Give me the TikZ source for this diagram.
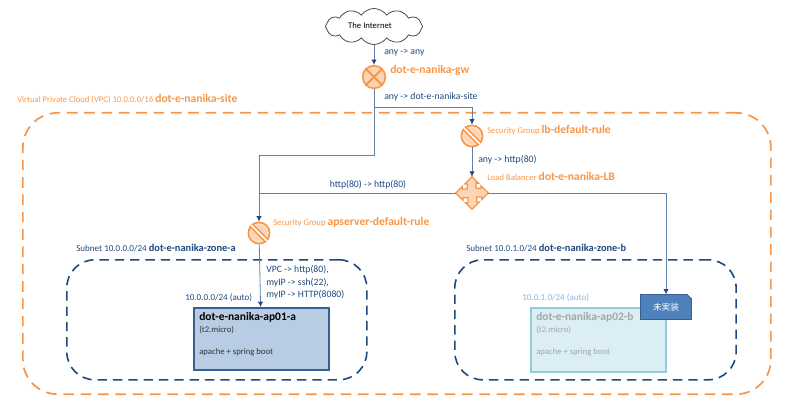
\documentclass[tikz,border=0pt]{standalone}
\usepackage{fontspec}
\setmainfont{Carlito}
\newfontfamily\cjkfont{Noto Sans CJK JP}
\usepackage{xcolor}
\usetikzlibrary{arrows.meta}
\usetikzlibrary{shapes.geometric}
\usetikzlibrary{shapes.symbols}
\definecolor{vpcorange}{HTML}{F79646}
\definecolor{iconfill}{HTML}{FBD5B5}
\definecolor{navy}{HTML}{1F497D}
\definecolor{wire}{HTML}{5F81AA}
\definecolor{apblue}{HTML}{B8CCE4}
\definecolor{apborder}{HTML}{376092}
\definecolor{offfill}{HTML}{DAEEF3}
\definecolor{offborder}{HTML}{92CDDC}
\definecolor{offtext}{HTML}{A6A6A6}
\definecolor{offip}{HTML}{8DB4E2}
\definecolor{tagblue}{HTML}{4F81BD}
\tikzset{
  wire/.style={draw=wire,line width=.6pt},
  flow/.style={wire,-{Latex[length=4pt,width=4pt,color=navy]}},
  region/.style={rounded corners=26pt,dashed,dash pattern=on 8pt off 5pt},
  zonebox/.style={draw=navy,line width=1.2pt,rounded corners=21pt,dash pattern=on 7pt off 4.5pt,minimum height=90pt,anchor=north west},
  secgroup/.style={circle,draw=vpcorange,fill=iconfill,line width=1.2pt,minimum size=16pt,inner sep=0pt},
  rule/.style={text=navy,align=left,font=\fontsize{7.3}{9.5}\selectfont,inner sep=0pt,anchor=west},
  orangelab/.style={text=vpcorange,font=\fontsize{6.5}{8}\selectfont,inner sep=0pt,anchor=west},
  bignavy/.style={text=navy,font=\fontsize{6.8}{8}\selectfont,inner sep=0pt,anchor=west},
  apbox/.style={draw=apborder,fill=apblue,line width=1.4pt,anchor=north west,minimum width=101pt,minimum height=46.5pt},
  boxtitle/.style={anchor=west,inner sep=0pt,font=\fontsize{8.6}{8}\selectfont\bfseries},
  boxtext/.style={anchor=west,inner sep=0pt,font=\fontsize{6.5}{8}\selectfont}
}
\newcommand{\orangebf}[1]{\textbf{\fontsize{8.7}{8}\selectfont #1}}
\newcommand{\navybf}[1]{\textbf{\fontsize{7.8}{8}\selectfont #1}}
\begin{document}
\begin{tikzpicture}[x=.75pt,y=-.75pt]
    \useasboundingbox (0,0) rectangle (800,410);
    % regions
    \node[draw=vpcorange,line width=1.3pt,region,minimum width=561pt,minimum height=211pt,anchor=north west] (vpc) at (22,112) {};
    \node[zonebox,minimum width=225pt] (zone-a) at (66,259) {};
    \node[zonebox,minimum width=211pt] (zone-b) at (454,259) {};
    % nodes
    \node[cloud,cloud puffs=12,cloud puff arc=110,aspect=2.8,draw=black!70,fill=white,line width=.6pt,minimum width=73pt,minimum height=27pt,inner sep=0pt,font=\fontsize{6.5}{8}\selectfont] (inet) at (374,26.5) {\kern-6pt\raisebox{2pt}{The Internet}};
    \node[secgroup,minimum size=17pt] (gw) at (374,77) {};
    \draw[vpcorange,line width=1.4pt] (gw.45) -- (gw.225) (gw.135) -- (gw.-45);
    \node[secgroup] (sg-lb) at (472,136) {};
    \node[secgroup] (sg-ap) at (259,233) {};
    \foreach \n in {sg-lb,sg-ap} {
      \draw[iconfill!60!white,line width=.6pt] (\n) circle (8.5);
      \draw[vpcorange,line width=3.6pt] (\n.135) -- (\n.-45);
      \draw[white,line width=1.3pt] (\n.135) -- (\n.-45);
    }
    \node[diamond,minimum width=24pt,minimum height=24pt,inner sep=0pt] (lb) at (472,193) {};
    \draw[draw=vpcorange,fill=iconfill,line width=.9pt]
      (lb.north) -- ++(6.5,6.5) -- ++(-2.5,0) -- ++(0,5) -- ++(5,0) -- ++(0,-2.5) -- (lb.east)
      -- ++(-6.5,6.5) -- ++(0,-2.5) -- ++(-5,0) -- ++(0,5) -- ++(2.5,0) -- (lb.south)
      -- ++(-6.5,-6.5) -- ++(2.5,0) -- ++(0,-5) -- ++(-5,0) -- ++(0,2.5) -- (lb.west)
      -- ++(6.5,-6.5) -- ++(0,2.5) -- ++(5,0) -- ++(0,-5) -- ++(-2.5,0) -- cycle;
    \node[apbox] (ap-a) at (193,307) {};
    \node[apbox,draw=offborder,fill=offfill,minimum height=48pt] (ap-b) at (530,307) {};
    \node[fill=tagblue,draw=apborder,line width=.5pt,minimum width=38pt,minimum height=18.5pt,inner sep=0pt,
      text=white,font=\cjkfont\fontsize{6.5}{8}\selectfont,
      shape=rectangle] (tag) at (666,307) {未実装};
    \fill[white] (tag.north east) ++(-5,-1) -- ++(6,0) -- ++(0,6) -- cycle;
    \draw[apborder,line width=.5pt] (tag.north east) ++(-5,0) -- ++(5,5);
    % bends
    \coordinate (gw-down) at (374,155);
    \coordinate (gw-left) at (259,155);
    \coordinate (gw-site) at (374,107);
    \coordinate (site-right) at (472,107);
    \coordinate (lb-right) at (666,193);
    \coordinate (lb-left) at (259,193);
    % connectors
    \draw[flow] (inet) -- (gw);
    \draw[flow] (gw) -- (gw-down) -- (gw-left) -- (sg-ap);
    \draw[flow] (gw-site) -- (site-right) -- (sg-lb);
    \draw[flow] (sg-lb) -- (lb);
    \draw[wire] (lb) -- (lb-left);
    \draw[flow] (lb) -- (lb-right) -- (tag);
    \draw[flow] (sg-ap) -- (ap-a);
    % labels
    \node[rule] (r-any) at (384,53) {any -> any};
    \node[rule] (r-site) at (384,97) {any -> dot-e-nanika-site};
    \node[rule] (r-http) at (478,160) {any -> http(80)};
    \node[rule,anchor=center] (r-lb) at (368,185) {http(80) -> http(80)};
    \node[rule,anchor=north west] (r-vpc) at (266,265) {VPC -> http(80),\\myIP -> ssh(22),\\myIP -> HTTP(8080)};
    \node[orangelab] (l-gw) at (390,70) {\orangebf{dot-e-nanika-gw}};
    \node[orangelab] (l-vpc) at (17,99) {Virtual Private Cloud (VPC) 10.0.0.0/16 \orangebf{dot-e-nanika-site}};
    \node[orangelab] (l-sglb) at (487,130) {Security Group \orangebf{lb-default-rule}};
    \node[orangelab] (l-lb) at (487,176) {Load Balancer \orangebf{dot-e-nanika-LB}};
    \node[orangelab] (l-sgap) at (273,222) {Security Group \orangebf{apserver-default-rule}};
    \node[bignavy] (l-za) at (76,248) {Subnet 10.0.0.0/24 \navybf{dot-e-nanika-zone-a}};
    \node[bignavy] (l-zb) at (466,248) {Subnet 10.0.1.0/24 \navybf{dot-e-nanika-zone-b}};
    \node[bignavy] (ip-a) at (185,298) {10.0.0.0/24 (auto)};
    \node[bignavy,text=offip] (ip-b) at (522,298) {10.0.1.0/24 (auto)};
    \node[boxtitle,text=black] (n-a) at (199,317) {dot-e-nanika-ap01-a};
    \node[boxtext,text=black!80] (t-a) at (199,330) {(t2.micro)};
    \node[boxtext,text=black!80] (s-a) at (199,352) {apache + spring boot};
    \node[boxtitle,text=offtext] (n-b) at (536,317) {dot-e-nanika-ap02-b};
    \node[boxtext,text=offtext] (t-b) at (536,330) {(t2.micro)};
    \node[boxtext,text=offtext] (s-b) at (536,352) {apache + spring boot};
\end{tikzpicture}
\end{document}
